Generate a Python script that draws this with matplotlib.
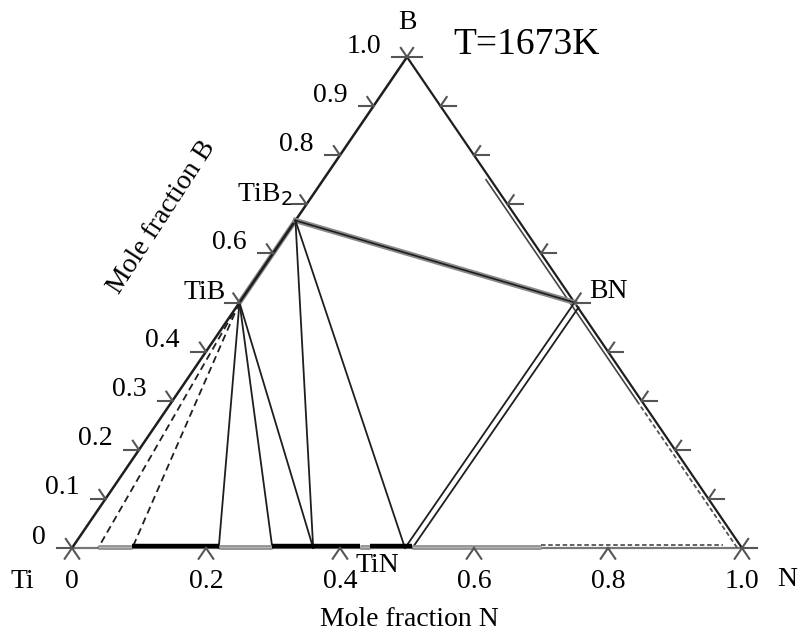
import numpy as np
import matplotlib
matplotlib.use("Agg")
import matplotlib.pyplot as plt

plt.rcParams['font.family'] = ['Liberation Serif', 'DejaVu Serif']

# ---- data (compositions as mole fractions: N, B) ----
phase_names = ["TiB", "TiB2", "BN", "TiN"]
phase_N = [0.0, 0.0, 0.5, 0.5]
phase_B = [0.5, 0.667, 0.5, 0.0]

# solid tie lines: from a phase to a point on the Ti-N edge (N value)
tie_from = ["TiB", "TiB", "TiB", "TiB2", "TiB2"]
tie_to_N = [0.219, 0.299, 0.36, 0.36, 0.497]

# dashed tie lines from TiB to the Ti-N edge
dash_from = ["TiB", "TiB"]
dash_to_N = [0.039, 0.09]

# Ti-N edge solubility segments (N from, N to, style)
seg_start = [0.039, 0.09, 0.219, 0.299, 0.43, 0.445, 0.508]
seg_end = [0.09, 0.219, 0.299, 0.43, 0.445, 0.508, 0.70]
seg_kind = ["grey", "black", "grey", "black", "grey", "black", "grey"]

tick_vals = [0.0, 0.1, 0.2, 0.3, 0.4, 0.5, 0.6, 0.7, 0.8, 0.9, 1.0]
left_labels = ["0", "0.1", "0.2", "0.3", "0.4", "TiB", "0.6", "TiB$_2$", "0.8", "0.9", "1.0"]
bottom_ticks = [0.0, 0.2, 0.4, 0.6, 0.8, 1.0]
bottom_labels = ["0", "0.2", "0.4", "0.6", "0.8", "1.0"]

# ---- geometry helpers ----
PXX, PXY = 670.0, 491.0  # triangle size in pixels (width, height)


def xy(N, B):
    return N + B / 2.0, B


def off(px, py):
    return px / PXX, py / PXY


fig = plt.figure(figsize=(8.06, 6.37), dpi=100)
ax = fig.add_axes([0, 0, 1, 1])
ax.set_xlim(-72 / PXX, (806 - 72) / PXX)
ax.set_ylim((548 - 637) / PXY, 548 / PXY)
ax.axis('off')

pos = {n: xy(a, b) for n, a, b in zip(phase_names, phase_N, phase_B)}

dark = '#1e1e1e'
tickc = '#555555'

# edges
Ti, Np, Bp = xy(0, 0), xy(1, 0), xy(0, 1)
ax.plot([Ti[0], Bp[0]], [Ti[1], Bp[1]], color=dark, lw=1.8, zorder=3)
ax.plot([Bp[0], Np[0]], [Bp[1], Np[1]], color=dark, lw=1.6, zorder=3)
ax.plot([Ti[0], Np[0]], [Ti[1], Np[1]], color='#777777', lw=1.6, zorder=2)

# TiB - TiB2 segment of the left edge (double grey)
p1, p2 = pos["TiB"], pos["TiB2"]
ax.plot([p1[0], p2[0]], [p1[1], p2[1]], color='#888888', lw=3.5, zorder=2)

# inner line parallel to B-N edge (Ti = 0.007)
t = 0.007
bs = [0.75, 0.30]
xs = [1 - t - b / 2 for b in bs]
ax.plot(xs, bs, color='#444444', lw=1.2, zorder=3)
bs2 = [0.30, 0.0]
xs2 = [1 - t - b / 2 for b in bs2]
ax.plot(xs2, bs2, color='#555555', lw=1.3, ls=(0, (2.5, 1.5)), zorder=3)

# TiB2 - BN (double grey line)
a, b = pos["TiB2"], pos["BN"]
ax.plot([a[0], b[0]], [a[1], b[1]], color='#8a8a8a', lw=3.8, zorder=3)
ax.plot([a[0], b[0]], [a[1], b[1]], color=dark, lw=1.2, zorder=4)

# TiN - BN double line
tn, bn = pos["TiN"], pos["BN"]
ax.plot([0.497, bn[0]], [0, bn[1]], color=dark, lw=1.3, zorder=4)
e2 = xy(0.508, 0.0)
ax.plot([e2[0], bn[0] + 0.006], [e2[1], bn[1] - 0.01], color=dark, lw=1.3, zorder=4)

# solid tie lines
for f, n in zip(tie_from, tie_to_N):
    s = pos[f]
    e = xy(n, 0)
    ax.plot([s[0], e[0]], [s[1], e[1]], color=dark, lw=1.3, zorder=4)

# dashed tie lines
for f, n in zip(dash_from, dash_to_N):
    s = pos[f]
    e = xy(n, 0)
    ax.plot([s[0], e[0]], [s[1], e[1]], color=dark, lw=1.3, ls=(0, (4, 2.5)), zorder=4)

# bottom solubility segments
for s0, s1, k in zip(seg_start, seg_end, seg_kind):
    if k == "black":
        ax.plot([s0, s1], [0.004, 0.004], color='black', lw=3.2, solid_capstyle='butt', zorder=5)
    else:
        ax.plot([s0, s1], [0.003, 0.003], color='#8c8c8c', lw=3.4, solid_capstyle='butt', zorder=4)
        ax.plot([s0, s1], [0.003, 0.003], color='#b4b4b4', lw=1.0, solid_capstyle='butt', zorder=4)
# dashed line near N side
ax.plot([0.70, 0.972], [0.007, 0.007], color='#555555', lw=1.3, ls=(0, (2.5, 1.5)), zorder=4)

# ---- ticks ----
ce, se = 0.5636, 0.826


def seg(p, dpx, dpy, L):
    dx, dy = off(dpx * L, dpy * L)
    ax.plot([p[0], p[0] + dx], [p[1], p[1] + dy], color=tickc, lw=1.5, zorder=6)


for v in tick_vals:
    # left edge (B axis)
    p = xy(0, v)
    seg(p, -1, 0, 15)
    seg(p, -ce, se, 11)
    # right edge
    p = xy(1 - v, v)
    seg(p, 1, 0, 15)
    seg(p, ce, se, 11)
for v in bottom_ticks:
    p = xy(v, 0)
    seg(p, -ce, -se, 13)
    seg(p, ce, -se, 13)

# ---- labels ----
fs = 20
for v, lab in zip(tick_vals, left_labels):
    p = xy(0, v)
    dx, dy = off(-26, 11)
    if lab.startswith("Ti"):
        dx, dy = off(-14, 10)
    ax.text(p[0] + dx, p[1] + dy, lab, ha='right', va='center', fontsize=fs)

for v, lab in zip(bottom_ticks, bottom_labels):
    p = xy(v, 0)
    dx, dy = off(0, -33)
    ax.text(p[0] + dx, p[1] + dy, lab, ha='center', va='center', fontsize=fs)

d = off(-50, -34)
ax.text(Ti[0] + d[0], Ti[1] + d[1], "Ti", ha='center', va='center', fontsize=fs)
d = off(35, -32)
ax.text(Np[0] + d[0], Np[1] + d[1], "N", ha='left', va='center', fontsize=fs)
d = off(0, 35)
ax.text(Bp[0] + d[0], Bp[1] + d[1], "B", ha='center', va='center', fontsize=fs)
d = off(46, 12)
ax.text(Bp[0] + d[0], Bp[1] + d[1], "T=1673K", ha='left', va='center', fontsize=27)

d = off(-30, -17)
ax.text(tn[0] + d[0], tn[1] + d[1], "TiN", ha='center', va='center', fontsize=fs)
d = off(15, 11)
ax.text(bn[0] + d[0], bn[1] + d[1], "BN", ha='left', va='center', fontsize=fs)

d = off(2, -72)
ax.text(0.5 + d[0], d[1], "Mole fraction N", ha='center', va='center', fontsize=fs)
lp = xy(0, 0.57)
d = off(-101, 51)
ax.text(lp[0] + d[0], lp[1] + d[1], "Mole fraction B", ha='center', va='center',
        fontsize=fs, rotation=57, rotation_mode='anchor')

fig.savefig("out.png", dpi=100)
